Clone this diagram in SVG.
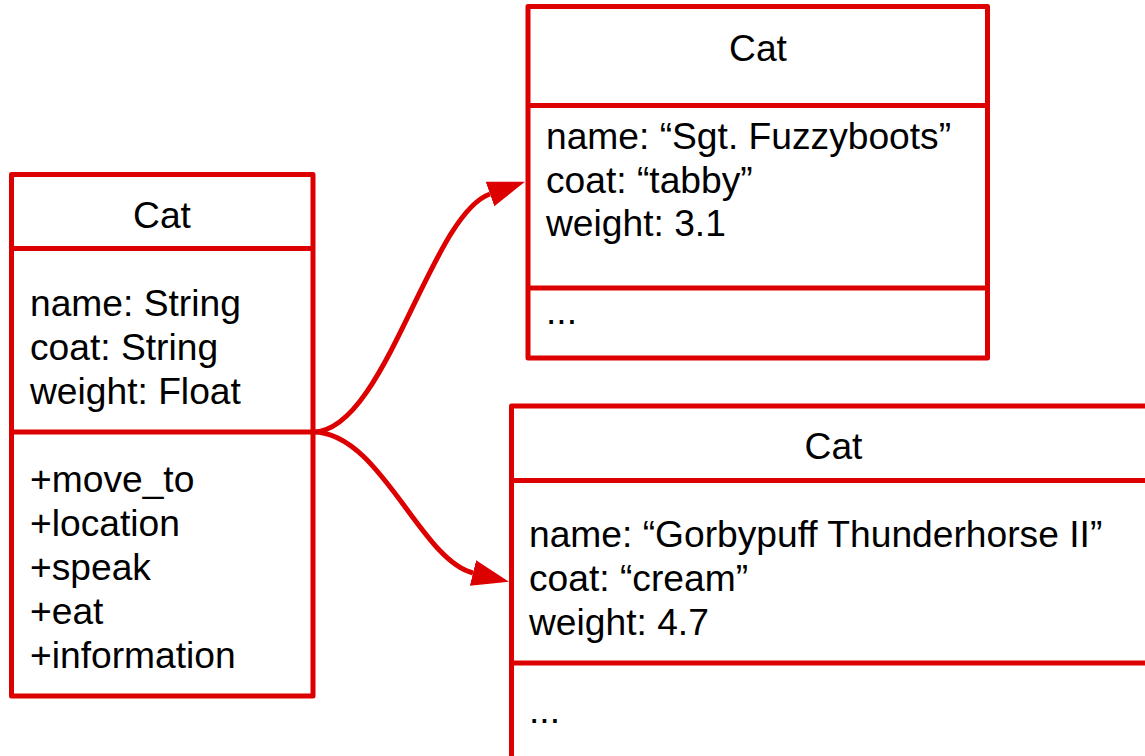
<svg xmlns="http://www.w3.org/2000/svg" width="1145" height="756" viewBox="0 0 1145 756">
  <style>
    .box { fill: #ffffff; stroke: #dd0000; stroke-width: 5; stroke-linejoin: round; }
    .rule { stroke: #dd0000; stroke-width: 5; }
    .link { fill: none; stroke: #dd0000; stroke-width: 5; }
    text { font-family: "Liberation Sans", Arial, sans-serif; font-size: 37.2px; fill: #000000; }
    .title { text-anchor: middle; }
  </style>
  <defs>
    <marker id="arrow" markerUnits="userSpaceOnUse" markerWidth="40" markerHeight="28" refX="0" refY="13" orient="auto">
      <path d="M0,0 L37,13 L0,26 Z" fill="#dd0000"/>
    </marker>
  </defs>
  <rect width="1145" height="756" fill="#ffffff"/>

  <!-- class definition -->
  <g id="cat-class">
    <rect class="box" x="11.5" y="174.5" width="301.5" height="521.5"/>
    <line class="rule" x1="11.5" y1="248.5" x2="313" y2="248.5"/>
    <line class="rule" x1="11.5" y1="432" x2="313" y2="432"/>
    <text class="title" x="162" y="228">Cat</text>
    <text x="30" y="316">name: String</text>
    <text x="30" y="360">coat: String</text>
    <text x="30" y="404">weight: Float</text>
    <text x="30" y="492">+move_to</text>
    <text x="30" y="536">+location</text>
    <text x="30" y="580">+speak</text>
    <text x="30" y="624">+eat</text>
    <text x="30" y="668">+information</text>
  </g>

  <!-- first instance -->
  <g id="cat-fuzzyboots">
    <rect class="box" x="528" y="6.5" width="459.5" height="351.5"/>
    <line class="rule" x1="528" y1="105.5" x2="987.5" y2="105.5"/>
    <line class="rule" x1="528" y1="288" x2="987.5" y2="288"/>
    <text class="title" x="758" y="61">Cat</text>
    <text x="546" y="149">name: “Sgt. Fuzzyboots”</text>
    <text x="546" y="193">coat: “tabby”</text>
    <text x="546" y="236">weight: 3.1</text>
    <text x="546" y="324">...</text>
  </g>

  <!-- second instance -->
  <g id="cat-gorbypuff">
    <rect class="box" x="511.5" y="406" width="644" height="380"/>
    <line class="rule" x1="511.5" y1="480.5" x2="1155.5" y2="480.5"/>
    <line class="rule" x1="511.5" y1="663" x2="1155.5" y2="663"/>
    <text class="title" x="833.5" y="459">Cat</text>
    <text x="529" y="547">name: “Gorbypuff Thunderhorse II”</text>
    <text x="529" y="591">coat: “cream”</text>
    <text x="529" y="635">weight: 4.7</text>
    <text x="529" y="723">...</text>
  </g>

  <!-- instantiation connectors -->
  <g id="connectors">
    <path class="link" d="M313,432 C385,432 430,215 490,194" marker-end="url(#arrow)"/>
    <path class="link" d="M313,432 C380,432 420,560 473,573" marker-end="url(#arrow)"/>
  </g>
</svg>
